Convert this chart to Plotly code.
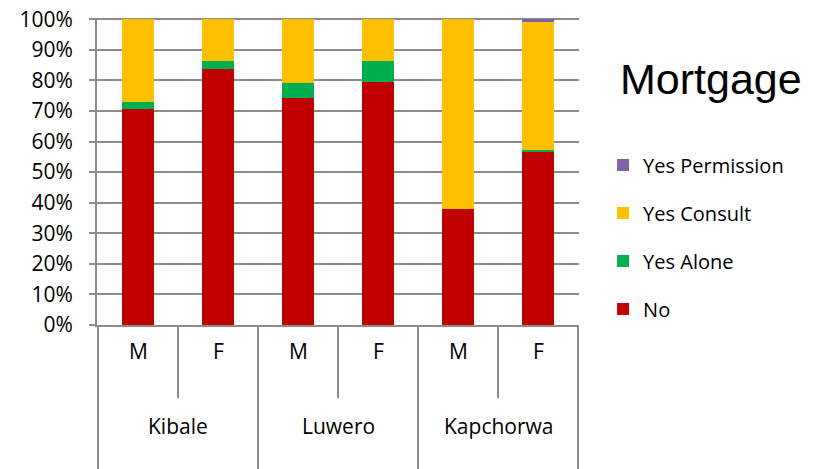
import plotly.graph_objects as go

districts = ["Kibale", "Kibale", "Luwero", "Luwero", "Kapchorwa", "Kapchorwa"]
sexes = ["M", "F", "M", "F", "M", "F"]
groups = ["Kibale", "Luwero", "Kapchorwa"]

no_vals = [0.706, 0.836, 0.741, 0.795, 0.380, 0.565]
alone_vals = [0.024, 0.028, 0.049, 0.070, 0.000, 0.007]
consult_vals = [0.270, 0.136, 0.210, 0.135, 0.620, 0.418]
permission_vals = [0.000, 0.000, 0.000, 0.000, 0.000, 0.010]

series = [
    ("No", no_vals, "#C00000", 4),
    ("Yes Alone", alone_vals, "#00B050", 3),
    ("Yes Consult", consult_vals, "#FFC000", 2),
    ("Yes Permission", permission_vals, "#8064A2", 1),
]

cats = [f"{d}|{s}" for d, s in zip(districts, sexes)]

fig = go.Figure()
for name, vals, col, rank in series:
    fig.add_trace(go.Bar(
        x=cats, y=vals, name=name, legendgroup=name, legendrank=rank,
        marker=dict(color=col, line=dict(width=0)),
    ))

grid = "#8C8C8C"
font_main = "Open Sans"

fig.update_layout(
    width=814, height=469,
    margin=dict(l=97, r=235, t=18, b=144, autoexpand=False),
    paper_bgcolor="white", plot_bgcolor="white",
    barmode="stack", bargap=0.6,
    showlegend=True,
    legend=dict(
        x=1.05, xanchor="left", y=0.585, yanchor="top",
        traceorder="grouped", tracegroupgap=19,
        font=dict(family=font_main, size=20, color="#000000"),
        itemwidth=30,
    ),
    font=dict(family=font_main, size=20, color="#000000"),
)

fig.update_yaxes(
    range=[0, 1.004], tickvals=[i / 10 for i in range(11)],
    tickformat=".0%", automargin=False, ticklabeloverflow="allow",
    showgrid=True, gridcolor=grid, gridwidth=1.5,
    showline=True, linecolor=grid, linewidth=2,
    ticks="outside", ticklen=6, tickcolor=grid, tickwidth=1.5,
    ticklabelstandoff=12,
    tickfont=dict(family=font_main, size=21, color="#000000"),
    zeroline=False,
)
fig.update_xaxes(
    type="category", categoryorder="array", categoryarray=cats,
    showticklabels=False, showline=True, linecolor=grid, linewidth=2,
    showgrid=False, ticks="", automargin=False,
)

# category labels
for i, s in enumerate(sexes):
    fig.add_annotation(x=i, y=-0.137, xref="x", yref="paper", text=s,
                       showarrow=False, font=dict(family=font_main, size=21, color="#000"))
for g_i, g in enumerate(groups):
    fig.add_annotation(x=2 * g_i + 0.5, y=-0.382, xref="x", yref="paper", text=g,
                       showarrow=False, font=dict(family=font_main, size=21, color="#000"))

# dividers
for k in range(7):
    xpos = k - 0.5
    y1 = -0.4706 if k % 2 == 0 else -0.2386
    fig.add_shape(type="line", xref="x", yref="paper", x0=xpos, x1=xpos,
                  y0=0, y1=y1, line=dict(color=grid, width=2))

fig.add_annotation(x=1.274, y=0.80, xref="paper", yref="paper", text="Mortgage",
                   showarrow=False, xanchor="center", yanchor="middle",
                   font=dict(family="Liberation Sans", size=43, color="#000"))

fig.write_html("out.html", config={"displayModeBar": False},
               post_script="document.body.style.margin='0';document.body.style.overflow='hidden';")
